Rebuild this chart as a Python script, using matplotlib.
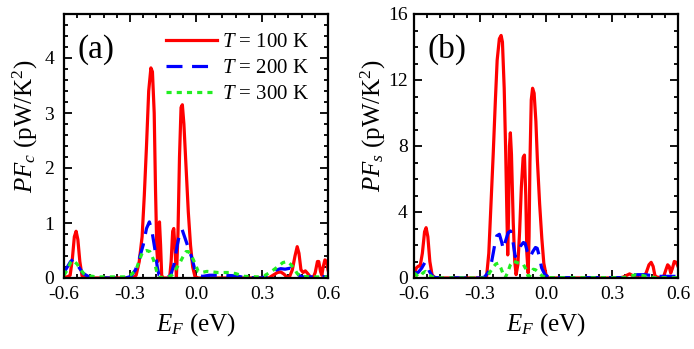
import matplotlib
matplotlib.use('Agg')
import matplotlib.pyplot as plt
from matplotlib.ticker import MultipleLocator

plt.rcParams['font.family'] = ['Liberation Serif', 'DejaVu Serif']
plt.rcParams['mathtext.fontset'] = 'custom'
plt.rcParams['mathtext.rm'] = 'Liberation Serif'
plt.rcParams['mathtext.it'] = 'Liberation Serif:italic'
plt.rcParams['axes.unicode_minus'] = False

# ---- panel (a): PF_c ----
a_red_x = [-0.600, -0.585, -0.572, -0.562, -0.553, -0.545, -0.537, -0.528, -0.518, -0.500,
           -0.285, -0.272, -0.258, -0.245, -0.235, -0.225, -0.215, -0.205, -0.198, -0.190,
           -0.184, -0.178, -0.174, -0.170, -0.166, -0.161, -0.156, -0.150, -0.120, -0.113,
           -0.106, -0.101, -0.095, -0.089, -0.082, -0.075, -0.068, -0.062, -0.055, -0.045,
           -0.035, -0.025, -0.015, -0.005, 0.010, 0.330, 0.350, 0.370, 0.385, 0.400,
           0.415, 0.425, 0.438, 0.450, 0.460, 0.468, 0.477, 0.487, 0.497, 0.508,
           0.520, 0.532, 0.542, 0.552, 0.558, 0.566, 0.572, 0.578, 0.586, 0.594, 0.600]
a_red_y = [0.02, 0.02, 0.05, 0.35, 0.75, 0.85, 0.70, 0.30, 0.04, 0.00,
           0.00, 0.05, 0.30, 0.75, 1.50, 2.40, 3.40, 3.82, 3.75, 3.00,
           1.60, 0.50, 0.30, 0.80, 1.02, 0.60, 0.05, 0.00, 0.00, 0.30,
           0.85, 0.90, 0.50, 0.02, 0.80, 2.20, 3.10, 3.15, 2.80, 2.00,
           1.20, 0.60, 0.20, 0.03, 0.00, 0.00, 0.05, 0.10, 0.11, 0.07,
           0.01, 0.02, 0.15, 0.40, 0.57, 0.45, 0.15, 0.10, 0.13, 0.08,
           0.02, 0.00, 0.10, 0.30, 0.30, 0.12, 0.05, 0.20, 0.33, 0.30, 0.15]

a_blue_x = [-0.600, -0.585, -0.570, -0.558, -0.545, -0.530, -0.512, -0.490, -0.467, -0.400,
            -0.320, -0.295, -0.275, -0.258, -0.240, -0.225, -0.212, -0.200, -0.186, -0.176,
            -0.168, -0.155, -0.130, -0.115, -0.100, -0.085, -0.072, -0.063, -0.052, -0.035,
            -0.020, -0.005, 0.010, 0.030, 0.060, 0.120, 0.180, 0.220, 0.300, 0.330,
            0.360, 0.385, 0.405, 0.430, 0.445, 0.460, 0.480, 0.520, 0.560, 0.600]
a_blue_y = [0.10, 0.20, 0.30, 0.34, 0.28, 0.18, 0.08, 0.03, 0.01, 0.00,
            0.00, 0.03, 0.15, 0.35, 0.60, 0.90, 1.02, 0.85, 0.50, 0.20,
            0.05, 0.02, 0.01, 0.05, 0.25, 0.60, 0.85, 0.88, 0.75, 0.55,
            0.38, 0.15, 0.05, 0.03, 0.05, 0.05, 0.04, 0.01, 0.00, 0.05,
            0.14, 0.17, 0.16, 0.18, 0.15, 0.07, 0.02, 0.02, 0.03, 0.02]

a_green_x = [-0.600, -0.585, -0.570, -0.558, -0.540, -0.525, -0.510, -0.490, -0.450, -0.320,
             -0.295, -0.280, -0.268, -0.255, -0.242, -0.225, -0.210, -0.195, -0.185, -0.175,
             -0.165, -0.130, -0.110, -0.090, -0.073, -0.060, -0.045, -0.035, -0.020, -0.005,
             0.010, 0.025, 0.050, 0.100, 0.150, 0.180, 0.220, 0.280, 0.310, 0.340,
             0.370, 0.395, 0.415, 0.430, 0.445, 0.460, 0.480, 0.520, 0.600]
a_green_y = [0.05, 0.15, 0.28, 0.32, 0.25, 0.15, 0.08, 0.04, 0.02, 0.02,
             0.06, 0.12, 0.20, 0.35, 0.48, 0.50, 0.48, 0.35, 0.22, 0.06,
             0.01, 0.01, 0.05, 0.17, 0.28, 0.38, 0.48, 0.48, 0.40, 0.27,
             0.12, 0.10, 0.12, 0.10, 0.10, 0.08, 0.03, 0.02, 0.04, 0.11,
             0.20, 0.28, 0.30, 0.25, 0.18, 0.08, 0.03, 0.02, 0.02]

# ---- panel (b): PF_s ----
b_red_x = [-0.600, -0.590, -0.580, -0.572, -0.562, -0.552, -0.545, -0.537, -0.528, -0.518,
           -0.505, -0.280, -0.270, -0.260, -0.250, -0.240, -0.230, -0.222, -0.212, -0.204,
           -0.198, -0.190, -0.183, -0.178, -0.174, -0.170, -0.166, -0.162, -0.157, -0.149,
           -0.142, -0.136, -0.128, -0.120, -0.112, -0.104, -0.098, -0.092, -0.087, -0.081,
           -0.077, -0.073, -0.067, -0.061, -0.054, -0.046, -0.039, -0.029, -0.019, -0.010,
           0.000, 0.010, 0.330, 0.350, 0.380, 0.400, 0.420, 0.440, 0.455, 0.468,
           0.478, 0.487, 0.495, 0.505, 0.520, 0.535, 0.545, 0.553, 0.560, 0.567,
           0.575, 0.583, 0.592, 0.600]
b_red_y = [0.10, 0.60, 0.72, 0.72, 1.50, 2.80, 3.05, 2.50, 1.00, 0.20,
           0.00, 0.00, 0.10, 1.50, 4.50, 7.50, 10.8, 13.2, 14.5, 14.7,
           14.3, 11.5, 7.50, 4.00, 1.40, 4.00, 8.00, 8.80, 7.50, 3.40,
           1.00, 0.20, 0.80, 2.80, 5.50, 7.30, 7.45, 5.00, 1.50, 0.30,
           2.50, 7.00, 10.8, 11.5, 11.2, 9.50, 7.10, 4.50, 2.40, 0.90,
           0.20, 0.00, 0.00, 0.05, 0.25, 0.10, 0.00, 0.05, 0.30, 0.80,
           0.95, 0.70, 0.15, 0.05, 0.03, 0.10, 0.50, 0.80, 0.70, 0.30,
           0.60, 1.00, 0.95, 0.70]

b_blue_x = [-0.600, -0.590, -0.580, -0.565, -0.550, -0.540, -0.530, -0.515, -0.500, -0.300,
            -0.280, -0.265, -0.255, -0.247, -0.240, -0.232, -0.224, -0.212, -0.202, -0.194,
            -0.185, -0.172, -0.161, -0.150, -0.140, -0.128, -0.115, -0.103, -0.095, -0.085,
            -0.073, -0.060, -0.048, -0.040, -0.030, -0.020, -0.005, 0.010, 0.030, 0.350,
            0.380, 0.400, 0.450, 0.480, 0.500, 0.600]
b_blue_y = [0.35, 0.30, 0.35, 0.60, 0.95, 0.80, 0.40, 0.08, 0.02, 0.00,
            0.05, 0.30, 0.60, 1.00, 1.50, 2.10, 2.55, 2.65, 2.20, 1.75,
            2.20, 2.75, 2.85, 2.20, 1.30, 1.50, 1.95, 2.15, 2.10, 1.60,
            1.25, 1.60, 1.85, 1.80, 1.30, 0.62, 0.20, 0.08, 0.02, 0.02,
            0.10, 0.20, 0.20, 0.15, 0.10, 0.10]

b_green_x = [-0.600, -0.590, -0.580, -0.570, -0.560, -0.548, -0.535, -0.520, -0.500, -0.280,
             -0.265, -0.255, -0.240, -0.228, -0.217, -0.205, -0.195, -0.186, -0.175, -0.162,
             -0.149, -0.135, -0.120, -0.103, -0.092, -0.083, -0.075, -0.066, -0.058, -0.048,
             -0.035, -0.020, -0.005, 0.020, 0.350, 0.380, 0.410, 0.440, 0.470, 0.500, 0.600]
b_green_y = [0.30, 0.20, 0.08, 0.10, 0.30, 0.40, 0.25, 0.08, 0.01, 0.00,
             0.10, 0.35, 0.65, 0.85, 0.90, 0.60, 0.25, 0.02, 0.30, 0.80,
             1.03, 0.95, 0.88, 0.83, 0.55, 0.15, 0.10, 0.35, 0.53, 0.50,
             0.35, 0.15, 0.05, 0.02, 0.02, 0.10, 0.20, 0.15, 0.05, 0.02, 0.02]

x_ticks = [-0.6, -0.3, 0.0, 0.3, 0.6]
x_ticklabels = ['-0.6', '-0.3', '0.0', '0.3', '0.6']
legend_labels = ['$T$ = 100 K', '$T$ = 200 K', '$T$ = 300 K']

RED, BLUE, GREEN = '#ff0000', '#0000ff', '#22ee22'

fig = plt.figure(figsize=(6.94, 3.49), dpi=100)
ax_a = fig.add_axes([64 / 694, 71 / 349, 264 / 694, 264 / 349])
ax_b = fig.add_axes([414 / 694, 71 / 349, 264 / 694, 264 / 349])


def style_axis(ax, ymax, ymajor, yminor, ylabel, tag, ypad, ylab_x):
    ax.set_xlim(-0.6, 0.6)
    ax.set_ylim(0, ymax)
    ax.set_xticks(x_ticks)
    ax.set_xticklabels(x_ticklabels)
    ax.xaxis.set_minor_locator(MultipleLocator(0.06))
    ax.yaxis.set_major_locator(MultipleLocator(ymajor))
    ax.yaxis.set_minor_locator(MultipleLocator(yminor))
    ax.tick_params(which='both', direction='in', top=True, right=True,
                   labelsize=14, width=1.3)
    ax.tick_params(axis='x', which='both', pad=6)
    ax.tick_params(axis='y', which='both', pad=ypad)
    ax.tick_params(which='major', length=6)
    ax.tick_params(which='minor', length=3)
    for sp in ax.spines.values():
        sp.set_linewidth(1.6)
    ax.set_xlabel('$E_F$ (eV)', fontsize=18)
    ax.xaxis.set_label_coords(0.5, -0.125)
    ax.set_ylabel(ylabel, fontsize=18)
    ax.yaxis.set_label_coords(ylab_x, 0.575)
    ax.text(0.05, 0.925, tag, transform=ax.transAxes, fontsize=24,
            ha='left', va='top')


ax_a.plot(a_red_x, a_red_y, color=RED, lw=2.3, label=legend_labels[0])
ax_a.plot(a_blue_x, a_blue_y, color=BLUE, lw=2.3, dashes=(5, 3), label=legend_labels[1])
ax_a.plot(a_green_x, a_green_y, color=GREEN, lw=2.3, dashes=(1.6, 1.6), label=legend_labels[2])
style_axis(ax_a, 4.8, 1, 0.2, '$PF_c$ (pW/K$^2$)', '(a)', 7, -0.09)
ax_a.legend(loc='upper right', frameon=False, fontsize=15, handlelength=2.45,
            handletextpad=0.25, labelspacing=0.3, borderaxespad=0.5,
            bbox_to_anchor=(1.0, 1.0))

ax_b.plot(b_red_x, b_red_y, color=RED, lw=2.3)
ax_b.plot(b_blue_x, b_blue_y, color=BLUE, lw=2.3, dashes=(5, 3))
ax_b.plot(b_green_x, b_green_y, color=GREEN, lw=2.3, dashes=(1.6, 1.6))
style_axis(ax_b, 16, 4, 1, '$PF_s$ (pW/K$^2$)', '(b)', 4.5, -0.1)

fig.savefig('out.png', dpi=100)
